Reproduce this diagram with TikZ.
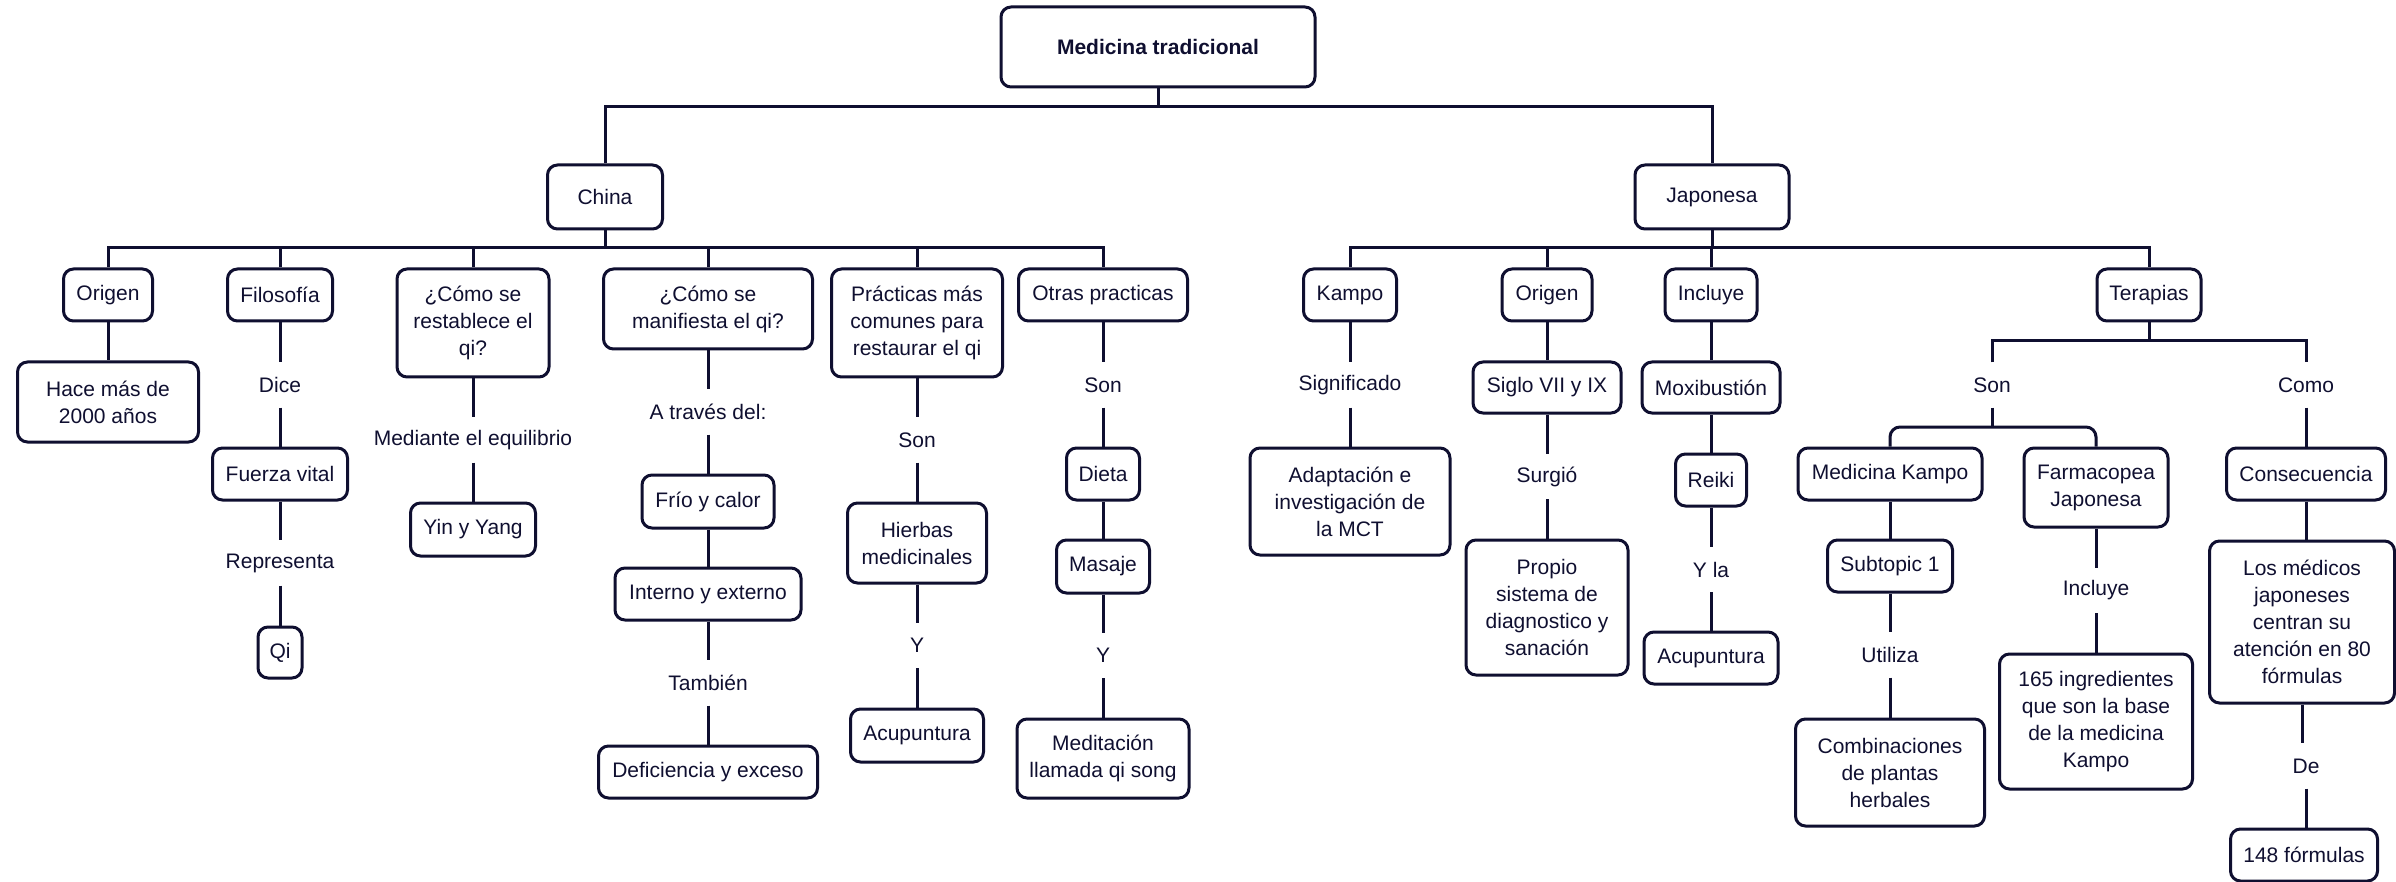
\documentclass[tikz,border=0pt]{standalone}
\usepackage{fontspec}
\setmainfont{Liberation Sans}
\definecolor{ink}{HTML}{0F0F30}
\begin{document}
\begin{tikzpicture}[x=1pt,y=-1pt,
 box/.style={draw=ink, line width=3pt, rounded corners=10pt, align=center, inner sep=0pt, text=ink, font=\fontsize{21}{27}\selectfont},
 lbl/.style={inner sep=0pt, minimum height=45pt, text=ink, font=\fontsize{21}{27}\selectfont},
 conn/.style={draw=ink, line width=3pt}]
\path[use as bounding box, fill=white] (0,0) rectangle (2396,882);

% root
\node[box,minimum width=314pt,minimum height=80pt,font=\fontsize{21}{27}\selectfont\bfseries] (root) at (1158,47) {Medicina tradicional};
\node[box,minimum width=115pt,minimum height=64pt] (china) at (605,197) {China};
\node[box,minimum width=154pt,minimum height=64pt] (jap) at (1712,197) {Japonesa};

% China children
\node[box,minimum width=89pt,minimum height=52pt] (c1) at (108,295) {Origen};
\node[box,minimum width=105pt,minimum height=52pt] (c2) at (280,295) {Filosofía};
\node[box,minimum width=152pt,minimum height=108pt] (c3) at (473,323) {¿Cómo se\\restablece el\\qi?};
\node[box,minimum width=209pt,minimum height=80pt] (c4) at (708,309) {¿Cómo se\\manifiesta el qi?};
\node[box,minimum width=171pt,minimum height=108pt] (c5) at (917,323) {Prácticas más\\comunes para\\restaurar el qi};
\node[box,minimum width=169pt,minimum height=52pt] (c6) at (1103,295) {Otras practicas};

% Japan children
\node[box,minimum width=93pt,minimum height=52pt] (j1) at (1350,295) {Kampo};
\node[box,minimum width=90pt,minimum height=52pt] (j2) at (1547,295) {Origen};
\node[box,minimum width=92pt,minimum height=52pt] (j3) at (1711,295) {Incluye};
\node[box,minimum width=104pt,minimum height=52pt] (j4) at (2149,295) {Terapias};

% bus coordinates
\coordinate (rb) at (1158,107);
\coordinate (cb) at (605,248);
\coordinate (jb) at (1712,248);
\coordinate (tb) at (2149,341);
\coordinate (sb) at (1992,427);

% China level 3
\node[box,minimum width=181pt,minimum height=80pt] (c1a) at (108,402) {Hace más de\\2000 años};
\node[lbl] (c2l1) at (280,385) {Dice};
\node[box,minimum width=135pt,minimum height=52pt] (c2a) at (280,474) {Fuerza vital};
\node[lbl] (c2l2) at (280,563) {Representa};
\node[box,minimum width=44pt,minimum height=51pt] (c2b) at (280,652.5) {Qi};
\node[lbl] (c3l) at (473,440) {Mediante el equilibrio};
\node[box,minimum width=125pt,minimum height=53pt] (c3a) at (473,529.5) {Yin y Yang};
\node[lbl] (c4l1) at (708,412) {A través del:};
\node[box,minimum width=132pt,minimum height=53pt] (c4a) at (708,501.5) {Frío y calor};
\node[box,minimum width=186pt,minimum height=52pt] (c4b) at (708,594) {Interno y externo};
\node[lbl] (c4l2) at (708,683) {También};
\node[box,minimum width=219pt,minimum height=52pt] (c4c) at (708,772) {Deficiencia y exceso};
\node[lbl] (c5l1) at (917,440) {Son};
\node[box,minimum width=139pt,minimum height=80pt] (c5a) at (917,543) {Hierbas\\medicinales};
\node[lbl] (c5l2) at (917,645.5) {Y};
\node[box,minimum width=133pt,minimum height=53pt] (c5b) at (917,735.5) {Acupuntura};
\node[lbl] (c6l1) at (1103,385) {Son};
\node[box,minimum width=73pt,minimum height=52pt] (c6a) at (1103,474) {Dieta};
\node[box,minimum width=93pt,minimum height=53pt] (c6b) at (1103,566.5) {Masaje};
\node[lbl] (c6l2) at (1103,655.5) {Y};
\node[box,minimum width=172pt,minimum height=79pt] (c6c) at (1103,758.5) {Meditación\\llamada qi song};

% Japan level 3
\node[lbl] (j1l) at (1350,385) {Significado};
\node[box,minimum width=200pt,minimum height=107pt] (j1a) at (1350,501.5) {Adaptación e\\investigación de\\la MCT};
\node[box,minimum width=148pt,minimum height=51pt] (j2a) at (1547,387.5) {Siglo VII y IX};
\node[lbl] (j2l) at (1547,476.5) {Surgió};
\node[box,minimum width=162pt,minimum height=135pt] (j2b) at (1547,607.5) {Propio\\sistema de\\diagnostico y\\sanación};
\node[box,minimum width=138pt,minimum height=51pt] (j3a) at (1711,387.5) {Moxibustión};
\node[box,minimum width=71pt,minimum height=52pt] (j3b) at (1711,480) {Reiki};
\node[lbl] (j3l) at (1711,569.5) {Y la};
\node[box,minimum width=134pt,minimum height=52pt] (j3c) at (1711,658) {Acupuntura};
\node[lbl] (j4l1) at (1992,385) {Son};
\node[lbl] (j4l2) at (2306,385) {Como};
\node[box,minimum width=184pt,minimum height=52pt] (j4a) at (1890,474) {Medicina Kampo};
\node[box,minimum width=144pt,minimum height=79pt] (j4b) at (2096,487.5) {Farmacopea\\Japonesa};
\node[box,minimum width=125pt,minimum height=52pt] (j4c) at (1890,566) {Subtopic 1};
\node[lbl] (j4d) at (1890,655) {Utiliza};
\node[box,minimum width=189pt,minimum height=107pt] (j4e) at (1890,772.5) {Combinaciones\\de plantas\\herbales};
\node[lbl] (j4f) at (2096,590.5) {Incluye};
\node[box,minimum width=193pt,minimum height=135pt] (j4g) at (2096,721.5) {165 ingredientes\\que son la base\\de la medicina\\Kampo};
\node[box,minimum width=159pt,minimum height=52pt] (j4h) at (2306,474) {Consecuencia};
\node[box,minimum width=185pt,minimum height=162pt] (j4i) at (2302,622) {Los médicos\\japoneses\\centran su\\atención en 80\\fórmulas};
\node[lbl] (j4j) at (2306,766) {De};
\node[box,minimum width=147pt,minimum height=52pt] (j4k) at (2304,855) {148 fórmulas};

% buses
\draw[conn] (root.south) -- (rb);
\draw[conn] (china.north) -- (china.north |- rb) -- (jap.north |- rb) -- (jap.north);
\draw[conn] (china.south) -- (cb);
\draw[conn] (c1.north) -- (c1.north |- cb) -- (c6.north |- cb) -- (c6.north);
\foreach \n in {c2,c3,c4,c5} \draw[conn] (\n.north) -- (\n.north |- cb);
\draw[conn] (jap.south) -- (jb);
\draw[conn] (j1.north) -- (j1.north |- jb) -- (j4.north |- jb) -- (j4.north);
\foreach \n in {j2,j3} \draw[conn] (\n.north) -- (\n.north |- jb);
\draw[conn] (j4.south) -- (tb);
\draw[conn] (j4l1.north) -- (j4l1.north |- tb) -- (j4l2.north |- tb) -- (j4l2.north);
\draw[conn] (j4l1.south) -- (sb);
\draw[conn, rounded corners=10pt] (j4a.north) -- (j4a.north |- sb) -- (j4b.north |- sb) -- (j4b.north);

% vertical chains
\foreach \a/\b in {c1/c1a, c2/c2l1, c2l1/c2a, c2a/c2l2, c2l2/c2b,
  c3/c3l, c3l/c3a, c4/c4l1, c4l1/c4a, c4a/c4b, c4b/c4l2, c4l2/c4c,
  c5/c5l1, c5l1/c5a, c5a/c5l2, c5l2/c5b,
  c6/c6l1, c6l1/c6a, c6a/c6b, c6b/c6l2, c6l2/c6c,
  j1/j1l, j1l/j1a, j2/j2a, j2a/j2l, j2l/j2b,
  j3/j3a, j3a/j3b, j3b/j3l, j3l/j3c,
  j4a/j4c, j4c/j4d, j4d/j4e, j4b/j4f, j4f/j4g,
  j4l2/j4h, j4h/j4i, j4i/j4j, j4j/j4k}
  \draw[conn] (\a.south) -- (\a.south |- \b.north);
\end{tikzpicture}
\end{document}
